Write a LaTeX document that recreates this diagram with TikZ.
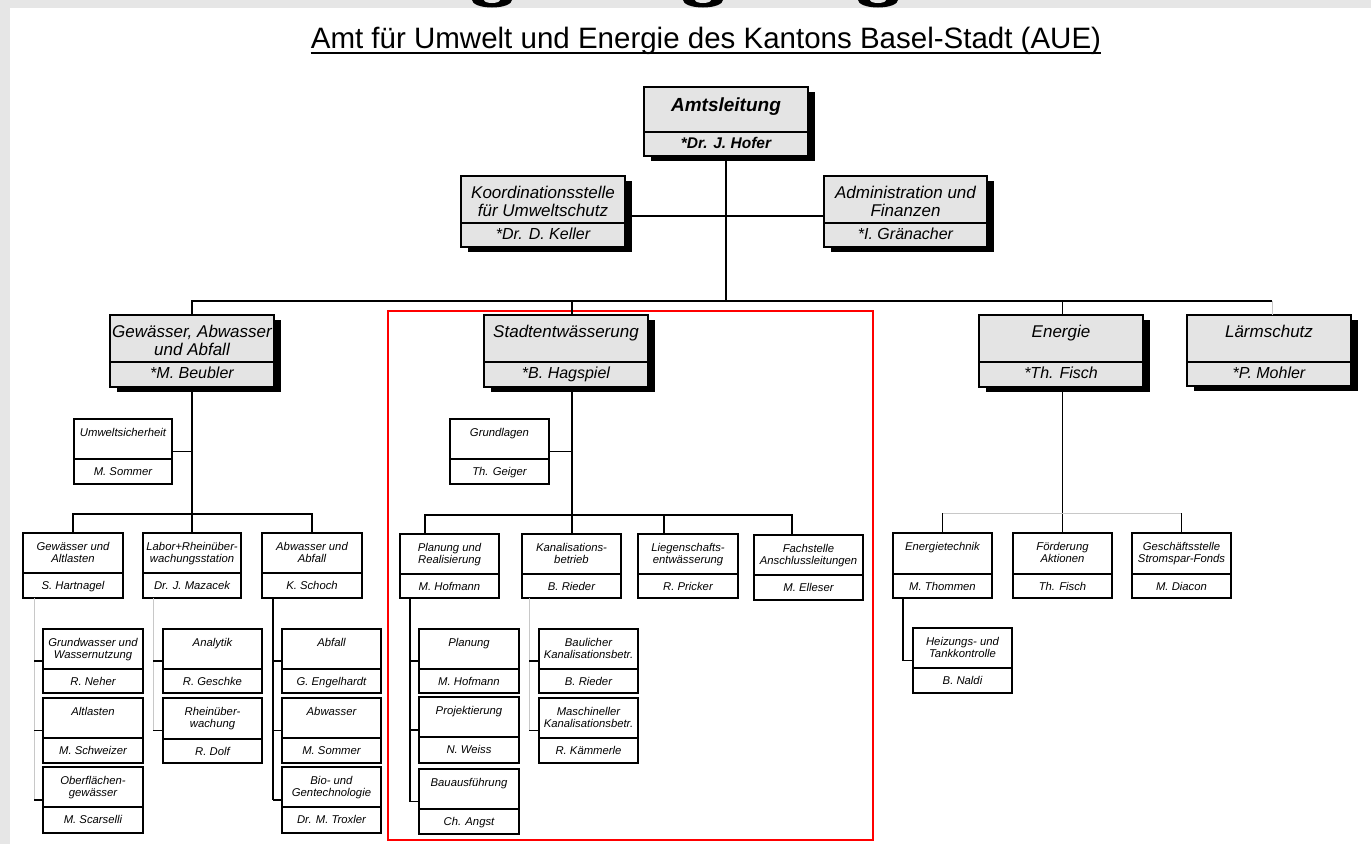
\documentclass[tikz,border=0pt]{standalone}
\usepackage{fontspec}
\newfontfamily\arialfont{Liberation Sans}
\usetikzlibrary{shadows,calc}
\definecolor{bggrey}{HTML}{E6E6E6}
\definecolor{boxgrey}{HTML}{E4E4E4}
\definecolor{lightline}{HTML}{C8C8C8}
\definecolor{framered}{HTML}{FF0000}
\tikzset{
  conn/.style={line width=1.2pt, black},
  lightconn/.style={line width=1pt, lightline},
  bigbox/.style={draw, line width=1.2pt, fill=boxgrey, inner sep=0pt, outer sep=0pt,
     drop shadow={shadow xshift=7pt, shadow yshift=-5pt, fill=black, opacity=1}},
  bigdiv/.style={line width=1.2pt},
  bigtitle/.style={anchor=base, inner sep=0pt, yshift=-22.5pt, font=\arialfont\itshape\fontsize{17}{18}\selectfont},
  bigname/.style={anchor=base, inner sep=0pt, yshift=-16.5pt, font=\arialfont\itshape\fontsize{16}{17}\selectfont},
  amtbox/.style={bigbox},
  amtdiv/.style={bigdiv},
  amttitle/.style={anchor=base, inner sep=0pt, yshift=-24pt, font=\arialfont\bfseries\itshape\fontsize{19}{20}\selectfont},
  amtname/.style={anchor=base, inner sep=0pt, yshift=-16pt, font=\arialfont\bfseries\itshape\fontsize{15.5}{16}\selectfont},
  smallbox/.style={draw, line width=1.1pt, fill=white, inner sep=0pt, outer sep=0pt},
  smalldiv/.style={line width=1.1pt},
  smalltitle/.style={anchor=base, inner sep=0pt, yshift=-17.5pt, font=\arialfont\itshape\fontsize{11.3}{12}\selectfont},
  smallname/.style={anchor=base, inner sep=0pt, yshift=-16.5pt, font=\arialfont\itshape\fontsize{11.3}{12}\selectfont},
}
\newcommand\OrgBox[9]{%
  \pgfmathsetmacro\obcx{(#3+#5)/2}%
  \pgfmathsetmacro\obcy{(#4+#6)/2}%
  \pgfmathsetmacro\obw{#5-#3}%
  \pgfmathsetmacro\obh{#6-#4}%
  \node[#2box, minimum width=\obw pt, minimum height=\obh pt] (#1) at (\obcx,\obcy) {};
  \draw[#2div] (#3,#7) -- (#5,#7);
  \node[#2title] (#1-t) at (\obcx,#4) {\begin{tabular}[t]{@{}c@{}}#8\end{tabular}};
  \node[#2name] (#1-n) at (\obcx,#7) {#9};
}
\begin{document}
\begin{tikzpicture}[x=1pt,y=-1pt]
\useasboundingbox (0,0) rectangle (1371,844);
\fill[bggrey] (0,0) rectangle (1371,844);
\begin{scope}
  \clip (0,0) rectangle (1371,8);
  \foreach \bx in {492,703,878} {
    \fill[black] (\bx,0) ellipse [x radius=20pt, y radius=7.5pt];
    \fill[bggrey] (\bx,0) ellipse [x radius=8pt, y radius=3pt];
  }
\end{scope}
\fill[white] (10,8) rectangle (1371,844);

% title
\node[anchor=base, inner sep=0pt, font=\arialfont\fontsize{29.5}{30}\selectfont] (title) at (706,48)
  {Amt für Umwelt und Energie des Kantons Basel-Stadt (AUE)};
\draw[line width=2.5pt] ([yshift=-5pt]title.base west) -- ([yshift=-5pt]title.base east);

% red frame
\draw[framered, line width=1.5pt] (388,311) rectangle (873,840);

% top level
\OrgBox{amt}{amt}{644}{87}{808}{156}{132}{Amtsleitung}{*Dr. J. Hofer}
\OrgBox{koord}{big}{461}{176}{625}{247}{223}{Koordinationsstelle\\für Umweltschutz}{*Dr. D. Keller}
\OrgBox{admin}{big}{824}{176}{987}{247}{223}{Administration und\\Finanzen}{*I. Gränacher}
\OrgBox{gew}{big}{110}{315}{274}{387}{362}{Gewässer, Abwasser\\und Abfall}{*M. Beubler}
\OrgBox{stadt}{big}{484}{315}{648}{387}{362}{Stadtentwässerung}{*B. Hagspiel}
\OrgBox{energie}{big}{979}{315}{1143}{387}{362}{Energie}{*Th. Fisch}
\OrgBox{laerm}{big}{1187}{315}{1351}{386}{362}{Lärmschutz}{*P. Mohler}

% Gewaesser section
\OrgBox{umw}{small}{74}{419}{172}{484}{459}{Umweltsicherheit}{M. Sommer}
\OrgBox{gwa}{small}{23}{533}{123}{598}{573}{Gewässer und\\Altlasten}{S. Hartnagel}
\OrgBox{labor}{small}{143}{533}{241}{598}{573}{Labor+Rheinüber-\\wachungsstation}{Dr. J. Mazacek}
\OrgBox{abw}{small}{262}{533}{362}{598}{573}{Abwasser und\\Abfall}{K. Schoch}
\OrgBox{grund}{small}{43}{629}{143}{693}{669}{Grundwasser und\\Wassernutzung}{R. Neher}
\OrgBox{alt}{small}{43}{698}{143}{763}{738}{Altlasten}{M. Schweizer}
\OrgBox{ober}{small}{43}{767}{143}{833}{807}{Oberflächen-\\gewässer}{M. Scarselli}
\OrgBox{analytik}{small}{163}{629}{262}{693}{669}{Analytik}{R. Geschke}
\OrgBox{rhein}{small}{163}{698}{262}{763}{739}{Rheinüber-\\wachung}{R. Dolf}
\OrgBox{abfall}{small}{282}{629}{381}{693}{669}{Abfall}{G. Engelhardt}
\OrgBox{abwa}{small}{282}{698}{381}{763}{738}{Abwasser}{M. Sommer}
\OrgBox{bio}{small}{282}{767}{381}{833}{807}{Bio- und\\Gentechnologie}{Dr. M. Troxler}

% Stadtentwaesserung section
\OrgBox{grundl}{small}{450}{419}{549}{484}{459}{Grundlagen}{Th. Geiger}
\OrgBox{plan}{small}{400}{534}{499}{598}{574}{Planung und\\Realisierung}{M. Hofmann}
\OrgBox{kanal}{small}{522}{534}{621}{598}{574}{Kanalisations-\\betrieb}{B. Rieder}
\OrgBox{liegen}{small}{638}{534}{738}{598}{574}{Liegenschafts-\\entwässerung}{R. Pricker}
\OrgBox{fach}{small}{754}{535}{863}{600}{575}{Fachstelle\\Anschlussleitungen}{M. Elleser}
\OrgBox{planung}{small}{419}{629}{519}{693}{669}{Planung}{M. Hofmann}
\OrgBox{projekt}{small}{419}{697}{519}{763}{737}{Projektierung}{N. Weiss}
\OrgBox{bau}{small}{419}{769}{519}{834}{809}{Bauausführung}{Ch. Angst}
\OrgBox{baul}{small}{539}{629}{638}{693}{669}{Baulicher\\Kanalisationsbetr.}{B. Rieder}
\OrgBox{masch}{small}{539}{698}{638}{763}{738}{Maschineller\\Kanalisationsbetr.}{R. Kämmerle}

% Energie section
\OrgBox{etech}{small}{893}{533}{992}{598}{574}{Energietechnik}{M. Thommen}
\OrgBox{foerd}{small}{1013}{533}{1112}{598}{574}{Förderung\\Aktionen}{Th. Fisch}
\OrgBox{gesch}{small}{1132}{533}{1231}{598}{574}{Geschäftsstelle\\Stromspar-Fonds}{M. Diacon}
\OrgBox{heiz}{small}{913}{628}{1012}{693}{668}{Heizungs- und\\Tankkontrolle}{B. Naldi}

% helper coordinates
\coordinate (bus) at (0,301);
\coordinate (gbus) at (0,514);
\coordinate (sbus) at (0,515);
\coordinate (ebus) at (0,513);
\coordinate (stadtN) at ([xshift=6pt]stadt.north);
\coordinate (stadtS) at ([xshift=6pt]stadt.south);
\coordinate (energieN) at ([xshift=1.5pt]energie.north);
\coordinate (energieS) at ([xshift=1.5pt]energie.south);
\coordinate (laermN) at ([xshift=3pt]laerm.north);
\coordinate (koordE) at ([yshift=-4.5pt]koord.east);
\coordinate (planD) at ([xshift=-24.5pt]plan.north);
\coordinate (liegenD) at ([xshift=-24pt]liegen.north);
\coordinate (fachD) at ([xshift=-16.5pt]fach.north);
\coordinate (gwaL) at ([xshift=11pt]gwa.south west);
\coordinate (labL) at ([xshift=10pt]labor.south west);
\coordinate (abwL) at ([xshift=11pt]abw.south west);
\coordinate (planL) at ([xshift=10pt]plan.south west);
\coordinate (kanL) at ([xshift=7pt]kanal.south west);
\coordinate (etL) at ([xshift=10pt]etech.south west);

% top connectors
\draw[conn] (amt.south) -- (amt.south |- bus);
\draw[conn] (koordE) -- (koordE -| admin.west);
\draw[conn] (gew.north) |- (laermN |- bus);
\draw[lightconn] (laermN |- bus) -- (laermN);
\draw[conn] (stadtN) -- (stadtN |- bus);
\draw[conn] (energieN) -- (energieN |- bus);

% Gewaesser connectors
\draw[conn] (gew.south) -- (labor.north);
\draw[conn] (umw.east) -- (umw.east -| gew.south);
\draw[conn] (gwa.north) |- (abw.north |- gbus) -- (abw.north);
\draw[lightconn] (gwaL) -- (gwaL |- ober.west);
\foreach \b in {grund,alt,ober} \draw[conn] (\b.west) -- (\b.west -| gwaL);
\draw[lightconn] (labL) -- (labL |- rhein.west);
\foreach \b in {analytik,rhein} \draw[conn] (\b.west) -- (\b.west -| labL);
\draw[conn] (abwL) -- (abwL |- bio.west);
\foreach \b in {abfall,abwa,bio} \draw[conn] (\b.west) -- (\b.west -| abwL);

% Stadtentwaesserung connectors
\draw[conn] (stadtS) -- (stadtS |- kanal.north);
\draw[conn] (grundl.east) -- (grundl.east -| stadtS);
\draw[conn] (planD) |- (fachD |- sbus) -- (fachD);
\draw[conn] (liegenD) -- (liegenD |- sbus);
\draw[conn] (planL) -- (planL |- bau.west);
\foreach \b in {planung,projekt,bau} \draw[conn] (\b.west) -- (\b.west -| planL);
\draw[lightconn] (kanL) -- (kanL |- masch.west);
\foreach \b in {baul,masch} \draw[conn] (\b.west) -- (\b.west -| kanL);

% Energie connectors
\draw[conn] (energieS) -- (energieS |- foerd.north);
\draw[lightconn] (etech.north |- ebus) -- (gesch.north |- ebus);
\draw[conn] (etech.north) -- (etech.north |- ebus);
\draw[conn] (gesch.north) -- (gesch.north |- ebus);
\draw[conn] (etL) |- (heiz.west);
\end{tikzpicture}
\end{document}
